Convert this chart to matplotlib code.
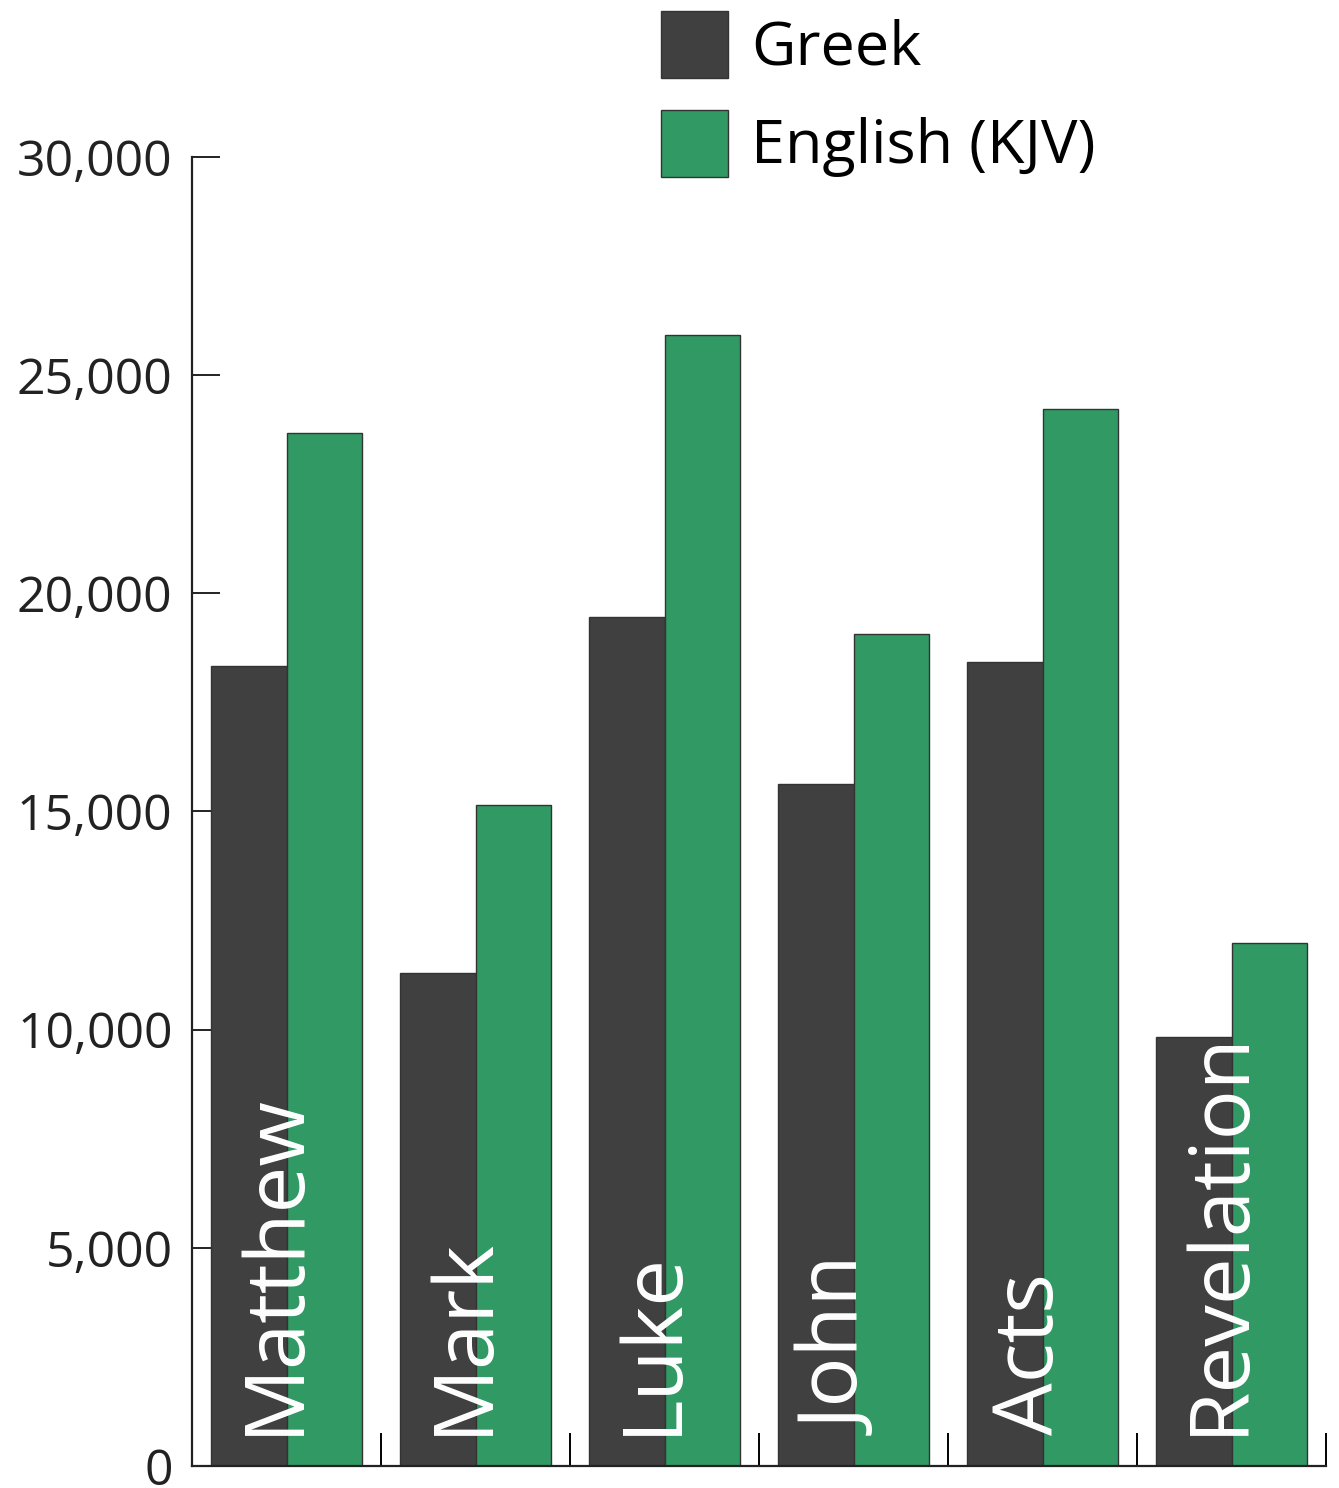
import matplotlib.pyplot as plt
import numpy as np

# word counts per book
books = ['Matthew', 'Mark', 'Luke', 'John', 'Acts', 'Revelation']
greek = [18330, 11300, 19460, 15630, 18430, 9830]
english = [23680, 15150, 25920, 19070, 24230, 11990]

plt.rcParams['font.family'] = ['Open Sans', 'DejaVu Sans']

fig = plt.figure(figsize=(13.39, 14.88), dpi=100)
ax = fig.add_axes([0.1434, 0.0148, 0.8470, 0.8797])

x = np.arange(len(books))
w = 0.4
ax.bar(x - w/2, greek, w, color='#404040', edgecolor='#333333', linewidth=1, label='Greek')
ax.bar(x + w/2, english, w, color='#319964', edgecolor='#333333', linewidth=1, label='English (KJV)')

for i, b in enumerate(books):
    ax.text(i - 0.06, 700, b, rotation=90, ha='center', va='bottom',
            color='white', fontsize=60)

ax.set_xlim(-0.5, 5.5)
ax.set_ylim(0, 30000)
ax.set_yticks(range(0, 30001, 5000))
ax.set_yticklabels(['{:,}'.format(v) for v in range(0, 30001, 5000)])
ax.set_xticks(np.arange(0.5, 6, 1))
ax.set_xticklabels([])
ax.tick_params(axis='y', direction='in', length=20, width=1.4, pad=14, labelsize=36, colors='#222222')
ax.tick_params(axis='x', direction='in', length=24, width=1.4)
ax.set_axisbelow(True)

for s in ['top', 'right']:
    ax.spines[s].set_visible(False)
for s in ['left', 'bottom']:
    ax.spines[s].set_linewidth(1.6)
    ax.spines[s].set_color('#222222')

fig.legend(loc='upper left', bbox_to_anchor=(661/1339, 1 - 11/1488), frameon=False,
           fontsize=44, handlelength=1.1, handleheight=1.31, handletextpad=0.38,
           labelspacing=0.5, borderpad=0, borderaxespad=0)

fig.savefig('out.png', dpi=100)
